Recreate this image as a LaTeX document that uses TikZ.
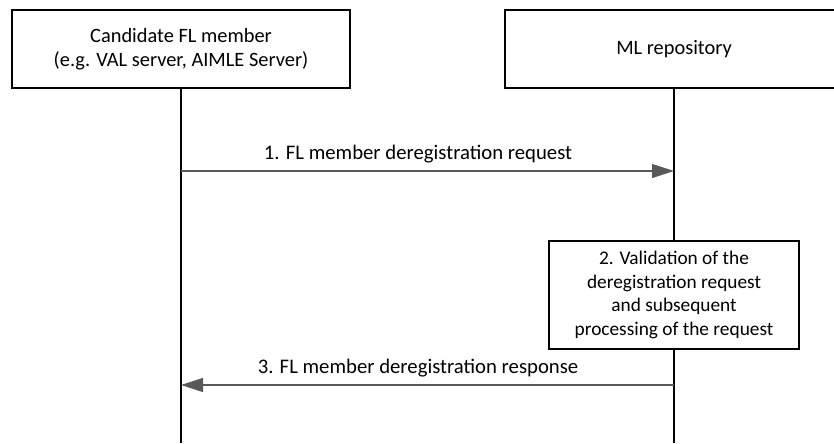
\documentclass[tikz,border=0pt]{standalone}
\usepackage{fontspec}
\setmainfont{Carlito}
\usetikzlibrary{arrows.meta,positioning}

\tikzset{
  actor/.style={draw, line width=0.6pt, minimum width=67.6mm, minimum height=15.6mm, align=center, font=\fontsize{11.6}{13.8}\selectfont},
  stepbox/.style={draw, line width=0.6pt, fill=white, minimum width=50mm, minimum height=21.6mm, align=center, font=\fontsize{11}{13.4}\selectfont},
  lifeline/.style={line width=0.6pt},
  msg/.style={line width=0.6pt, black!65, -{Triangle[length=4.4mm, width=2.8mm]}},
  msglabel/.style={font=\fontsize{11.8}{14}\selectfont, text=black, xshift=-1.9mm}
}

\begin{document}
\begin{tikzpicture}[x=0.2mm, y=-0.2mm]
\useasboundingbox (0,0) rectangle (834,443);
\clip (0,0) rectangle (834,443);

% Entities
\node[actor] (member) at (181,49) {Candidate FL member\\(e.g. VAL server, AIMLE Server)};
\node[actor] (repo) at (674,49) {ML repository};

% Lifeline ends
\coordinate (memberend) at (181,443);
\coordinate (repoend) at (674,443);

\draw[lifeline] (member) -- (memberend);
\draw[lifeline] (repo) -- (repoend);

% Step 1
\coordinate (m1) at (181,171);
\coordinate (r1) at (674,171);
\draw[msg] (m1) -- (r1) node[midway, above=1pt, msglabel] {1. FL member deregistration request};

% Step 2
\node[stepbox] (validate) at (674,295) {2. Validation of the\\deregistration request\\and subsequent\\processing of the request};

% Step 3
\coordinate (m3) at (181,385);
\coordinate (r3) at (674,385);
\draw[msg] (r3) -- (m3) node[midway, above=1pt, msglabel] {3. FL member deregistration response};
\end{tikzpicture}
\end{document}
